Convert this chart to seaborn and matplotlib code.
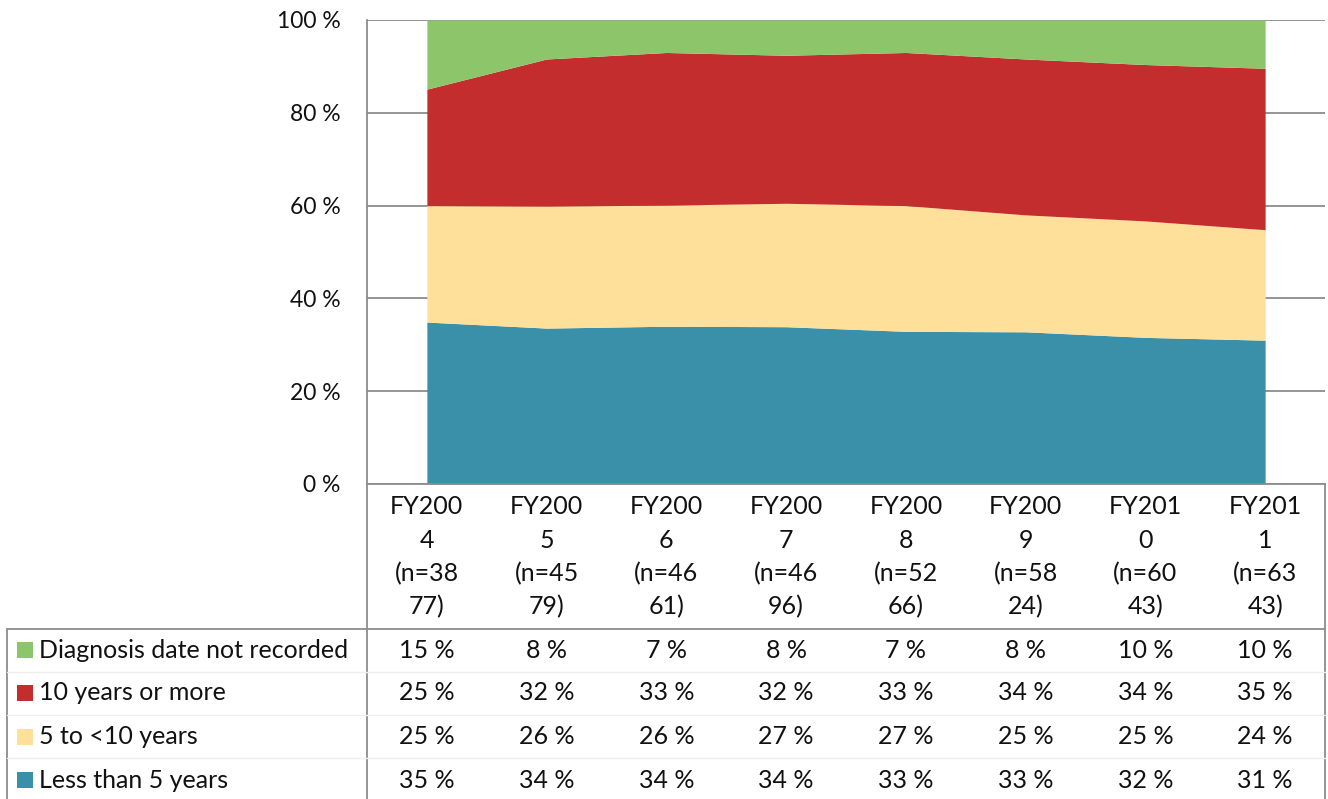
import matplotlib.pyplot as plt
import seaborn as sns
from matplotlib.lines import Line2D
from matplotlib.transforms import blended_transform_factory

# data (percent of patients per fiscal year)
years = ["FY2004", "FY2005", "FY2006", "FY2007", "FY2008", "FY2009", "FY2010", "FY2011"]
header_labels = ["FY200\n4\n(n=38\n77)", "FY200\n5\n(n=45\n79)", "FY200\n6\n(n=46\n61)",
                 "FY200\n7\n(n=46\n96)", "FY200\n8\n(n=52\n66)", "FY200\n9\n(n=58\n24)",
                 "FY201\n0\n(n=60\n43)", "FY201\n1\n(n=63\n43)"]
less_than_5 = [34.9, 33.6, 34.0, 33.9, 32.9, 32.8, 31.6, 31.0]
five_to_10 = [25.1, 26.3, 26.1, 26.6, 27.1, 25.2, 25.1, 23.8]
ten_or_more = [25.1, 31.7, 32.9, 31.9, 33.0, 33.6, 33.7, 34.8]
not_recorded = [14.9, 8.4, 7.0, 7.6, 7.0, 8.4, 9.6, 10.4]
series_names = ["Less than 5 years", "5 to <10 years", "10 years or more",
                "Diagnosis date not recorded"]
colors = ["#3A90A8", "#FEE09A", "#C32D2E", "#8DC66A"]
y_ticks = [0, 20, 40, 60, 80, 100]

sns.set_theme(style="white")
plt.rcParams['font.family'] = ['Lato', 'DejaVu Sans']

W, H = 1328, 799
fig = plt.figure(figsize=(W / 100, H / 100), dpi=100)

# pixel helpers
def fx(px):
    return px / W

def fy(py):
    return 1 - py / H

TXT = "#111111"
FS = 18

left, right, top, bottom = 367, 1325, 20, 484
ax = fig.add_axes([fx(left), fy(bottom), fx(right - left), (bottom - top) / H])

x = list(range(len(years)))
ax.stackplot(x, less_than_5, five_to_10, ten_or_more, not_recorded,
             colors=colors, linewidth=0, zorder=2)
ax.set_xlim(-0.5, len(years) - 0.5)
ax.set_ylim(0, 100)
ax.set_yticks(y_ticks)
ax.set_yticklabels([f"{t} %" for t in y_ticks], fontsize=16.5, color=TXT)
ax.set_xticks([])
ax.tick_params(axis="y", length=0, pad=19)
ax.set_axisbelow(True)
ax.yaxis.grid(True, color="#8c8c8c", linewidth=1.3)
sns.despine(ax=ax, top=True, right=True, bottom=False, left=False)
for side in ["left", "bottom"]:
    ax.spines[side].set_color("#8c8c8c")
    ax.spines[side].set_linewidth(1.3)

# data table under the chart
line_kw = dict(color="#8c8c8c", linewidth=1.3, transform=fig.transFigure)
fig.add_artist(Line2D([fx(left), fx(left)], [fy(bottom), fy(H)], **line_kw))
fig.add_artist(Line2D([fx(right), fx(right)], [fy(bottom), fy(H)], **line_kw))
fig.add_artist(Line2D([fx(7), fx(7)], [fy(629), fy(H)], **line_kw))
fig.add_artist(Line2D([fx(7), fx(right)], [fy(629), fy(629)], **line_kw))
for sep in [672, 715, 758]:
    fig.add_artist(Line2D([fx(7), fx(right)], [fy(sep), fy(sep)],
                          color="#eeeeee", linewidth=1, transform=fig.transFigure))

trans = blended_transform_factory(ax.transData, fig.transFigure)
for i, lab in enumerate(header_labels):
    ax.text(i, fy(557), lab, transform=trans, ha="center", va="center",
            fontsize=FS, linespacing=1.53, color=TXT)

table_rows = [not_recorded, ten_or_more, five_to_10, less_than_5]
row_names = series_names[::-1]
row_colors = colors[::-1]
row_y = [650, 693, 737, 780]
for vals, name, col, yy in zip(table_rows, row_names, row_colors, row_y):
    fig.patches.append(plt.Rectangle((fx(17), fy(yy + 8)), fx(16), 16 / H,
                                     facecolor=col, edgecolor="none",
                                     transform=fig.transFigure))
    fig.text(fx(39), fy(yy), name, ha="left", va="center", fontsize=FS,
             color=TXT)
    for i, v in enumerate(vals):
        ax.text(i, fy(yy), f"{v:.0f} %", transform=trans, ha="center",
                va="center", fontsize=FS, color=TXT)

fig.savefig("out.png", dpi=100)
plt.close(fig)
